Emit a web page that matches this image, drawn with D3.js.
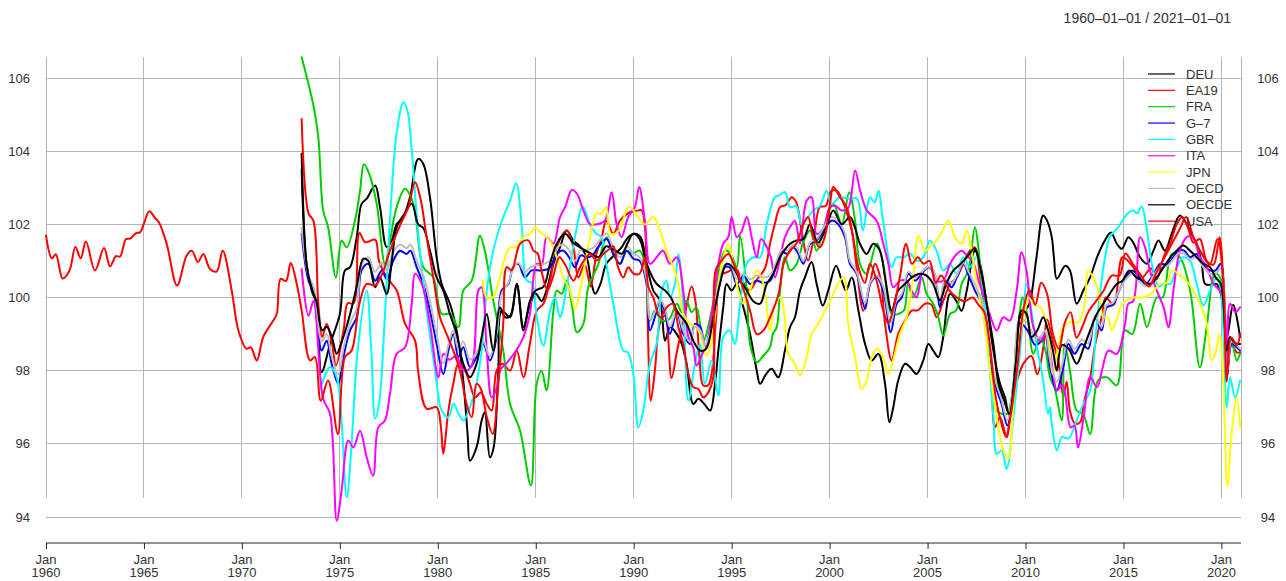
<!DOCTYPE html>
<html><head><meta charset="utf-8">
<script src="https://cdn.jsdelivr.net/npm/d3@7"></script>
<style>
html,body{margin:0;padding:0;background:#fff;}
svg text{font-family:"Liberation Sans",Arial,Helvetica,sans-serif;}
</style></head>
<body><svg id="c" width="1286" height="581"></svg>
<script>
// ---- data (decimal year, index value) ----
const seriesNames = ["DEU","EA19","FRA","G–7","GBR","ITA","JPN","OECD","OECDE","USA"];
const seriesColors = ["#000000","#FF0000","#00CD00","#0000FF","#00FFFF","#FF00FF","#FFFF00","#BEBEBE","#000000","#FF0000"];
const yTicks = [94,96,98,100,102,104,106];
const xTicks = [1960,1965,1970,1975,1980,1985,1990,1995,2000,2005,2010,2015,2020];
const titleText = "1960–01–01 / 2021–01–01";

const DEU = [[1973.05,103.93],[1973.3,100.92],[1973.56,100.19],[1973.8,99.83],[1974.07,97.96],[1974.5,98.73],[1975.0,99.55],[1975.26,100.74],[1975.52,100.83],[1975.86,101.65],[1976.11,102.56],[1976.37,102.7],[1976.8,103.06],[1977.05,102.47],[1977.39,101.38],[1977.65,101.56],[1977.9,102.0],[1978.24,102.2],[1978.58,102.74],[1979.0,103.79],[1979.26,103.65],[1979.6,102.74],[1979.94,101.1],[1980.2,100.37],[1980.62,99.83],[1980.96,99.1],[1981.3,97.73],[1981.52,96.27],[1981.64,95.54],[1981.98,95.91],[1982.24,96.64],[1982.4,96.86],[1982.66,95.63],[1982.85,95.9],[1983.09,98.0],[1983.26,99.64],[1983.69,99.46],[1984.03,100.37],[1984.37,99.19],[1984.7,99.8],[1985.0,100.1],[1985.3,99.9],[1985.55,100.2],[1985.9,100.92],[1986.24,101.37],[1986.58,101.83],[1986.92,101.56],[1987.26,101.4],[1987.6,101.1],[1987.85,100.37],[1988.03,100.1],[1988.3,100.37],[1988.6,100.92],[1988.9,101.1],[1989.38,101.37],[1989.72,101.65],[1990.06,101.74],[1990.35,101.65],[1990.66,100.92],[1991.0,100.19],[1991.34,99.92],[1991.6,98.82],[1991.85,99.19],[1992.2,99.0],[1992.45,98.73],[1992.7,98.19],[1993.04,97.09],[1993.3,97.23],[1993.6,97.09],[1993.9,96.91],[1994.15,97.64],[1994.32,98.55],[1994.57,99.73],[1994.74,100.37],[1995.0,100.19],[1995.26,100.37],[1995.6,99.73],[1995.94,99.0],[1996.28,98.0],[1996.45,97.64],[1996.75,97.9],[1997.04,98.05],[1997.38,97.82],[1997.72,98.55],[1997.98,99.19],[1998.23,99.46],[1998.49,100.19],[1998.74,100.55],[1999.08,100.97],[1999.34,100.37],[1999.65,99.78],[1999.93,100.19],[2000.33,100.87],[2000.62,100.46],[2000.84,100.19],[2001.13,100.55],[2001.47,99.64],[2001.81,98.73],[2002.15,98.28],[2002.49,98.46],[2002.83,97.64],[2003.05,96.59],[2003.25,97.0],[2003.5,97.73],[2003.85,98.19],[2004.1,98.1],[2004.44,97.91],[2004.78,98.28],[2005.04,98.73],[2005.29,98.55],[2005.55,98.37],[2005.8,98.92],[2006.15,100.1],[2006.45,99.92],[2006.74,99.64],[2007.0,100.19],[2007.42,101.28],[2007.68,100.92],[2008.02,99.83],[2008.36,98.55],[2008.7,97.64],[2008.95,97.27],[2009.17,96.77],[2009.46,97.64],[2009.72,99.46],[2009.97,99.64],[2010.2,99.83],[2010.56,101.1],[2010.9,102.24],[2011.1,102.1],[2011.34,101.65],[2011.45,101.1],[2011.6,100.51],[2012.03,100.87],[2012.27,100.74],[2012.61,99.83],[2012.95,100.19],[2013.3,100.55],[2013.65,101.1],[2014.05,101.56],[2014.36,101.78],[2014.66,101.47],[2014.92,101.33],[2015.25,101.65],[2015.5,101.5],[2015.85,101.1],[2016.2,100.92],[2016.53,101.28],[2016.79,101.56],[2017.12,101.28],[2017.46,101.74],[2017.88,102.24],[2018.23,102.0],[2018.5,101.7],[2018.74,101.47],[2019.0,100.92],[2019.17,100.37],[2019.5,100.35],[2019.75,100.37],[2019.97,100.1],[2020.27,98.9],[2020.6,99.8],[2020.95,98.92]];

const EA19 = [[1973.05,104.88],[1973.4,102.3],[1973.65,102.1],[1973.9,99.83],[1974.1,98.92],[1974.33,99.28],[1974.6,98.74],[1974.8,98.14],[1975.2,99.15],[1975.4,99.84],[1975.7,99.84],[1976.0,101.76],[1976.3,101.51],[1976.8,101.58],[1977.0,101.0],[1977.39,100.55],[1977.9,100.19],[1978.33,99.28],[1978.84,98.82],[1979.0,97.96],[1979.43,96.96],[1979.94,97.0],[1980.15,96.5],[1980.28,95.73],[1980.54,96.91],[1980.79,97.64],[1981.05,98.19],[1981.3,98.1],[1981.64,97.64],[1981.9,97.27],[1982.2,97.4],[1982.5,97.09],[1982.75,96.91],[1983.0,98.0],[1983.3,98.19],[1983.69,98.0],[1984.03,98.55],[1984.37,97.82],[1984.7,98.73],[1985.05,99.64],[1985.39,99.83],[1985.73,100.46],[1986.07,101.37],[1986.58,101.83],[1986.92,101.37],[1987.17,100.55],[1987.5,100.9],[1987.8,100.3],[1988.1,101.2],[1988.35,101.6],[1988.6,102.1],[1988.96,101.74],[1989.3,102.1],[1989.8,102.33],[1990.1,102.36],[1990.4,102.38],[1990.57,101.92],[1990.72,99.2],[1990.87,97.18],[1991.08,98.0],[1991.34,99.3],[1991.6,99.5],[1991.93,97.8],[1992.2,98.5],[1992.6,99.5],[1992.96,100.3],[1993.15,99.9],[1993.35,98.4],[1993.55,97.6],[1993.8,97.6],[1994.0,98.0],[1994.2,99.4],[1994.45,100.6],[1994.8,100.7],[1995.2,100.8],[1995.5,100.5],[1995.9,100.2],[1996.3,100.5],[1996.7,100.8],[1996.96,101.47],[1997.2,102.0],[1997.47,102.47],[1997.75,102.52],[1998.06,102.74],[1998.3,102.6],[1998.57,101.83],[1998.9,101.01],[1999.2,101.65],[1999.5,102.47],[1999.8,102.5],[2000.1,102.92],[2000.4,102.9],[2000.78,102.47],[2001.13,101.83],[2001.38,100.83],[2001.72,99.64],[2002.06,100.37],[2002.32,100.92],[2002.6,100.5],[2002.83,99.28],[2003.17,98.28],[2003.5,99.0],[2003.85,99.37],[2004.19,99.64],[2004.5,99.65],[2004.87,99.83],[2005.2,99.8],[2005.46,99.46],[2005.8,99.9],[2006.15,100.37],[2006.49,100.55],[2006.82,100.92],[2007.16,101.28],[2007.42,101.37],[2007.68,100.55],[2008.02,99.19],[2008.27,97.64],[2008.44,96.45],[2008.7,96.73],[2009.04,96.18],[2009.3,97.2],[2009.55,97.7],[2009.9,98.2],[2010.3,98.4],[2010.6,97.9],[2010.9,98.6],[2011.1,99.4],[2011.4,98.8],[2011.7,98.2],[2011.93,97.3],[2012.1,97.7],[2012.27,96.9],[2012.53,96.55],[2012.8,96.6],[2012.97,97.1],[2013.3,97.8],[2013.55,98.7],[2013.9,99.5],[2014.1,100.0],[2014.5,99.8],[2014.95,101.1],[2015.4,100.9],[2015.95,100.55],[2016.4,100.8],[2016.7,100.5],[2017.05,101.1],[2017.4,101.5],[2017.72,102.0],[2018.0,102.2],[2018.3,101.9],[2018.57,101.5],[2018.9,101.6],[2019.25,101.0],[2019.6,100.9],[2019.9,101.65],[2020.1,100.4],[2020.27,97.8],[2020.52,98.7],[2020.78,98.5],[2020.95,98.5]];

const FRA = [[1973.05,106.57],[1973.65,105.25],[1973.9,104.38],[1974.15,102.38],[1974.4,101.92],[1974.8,100.55],[1975.09,101.56],[1975.35,101.37],[1975.77,102.1],[1976.03,102.92],[1976.23,103.64],[1976.5,103.38],[1976.88,102.56],[1977.3,100.92],[1977.56,101.56],[1977.9,102.47],[1978.33,102.97],[1978.75,102.56],[1979.26,100.83],[1979.77,100.55],[1980.2,99.55],[1980.62,99.55],[1981.05,99.19],[1981.3,100.19],[1981.73,100.46],[1982.15,101.69],[1982.4,101.28],[1982.83,99.92],[1983.34,98.55],[1983.69,97.09],[1984.2,96.36],[1984.75,94.86],[1985.05,97.65],[1985.3,98.0],[1985.55,97.46],[1985.9,99.64],[1986.07,100.19],[1986.33,100.1],[1986.58,100.46],[1986.84,99.83],[1987.1,99.05],[1987.43,99.28],[1987.68,100.28],[1988.2,100.92],[1988.45,101.47],[1988.62,101.65],[1988.96,101.19],[1989.3,100.92],[1989.64,101.28],[1989.95,101.2],[1990.3,101.28],[1990.57,100.92],[1990.83,99.37],[1991.08,99.64],[1991.43,99.37],[1991.8,99.4],[1992.2,99.83],[1992.45,99.6],[1992.7,99.92],[1992.95,99.6],[1993.2,99.73],[1993.55,98.82],[1993.98,99.64],[1994.32,100.65],[1994.66,101.28],[1994.95,101.2],[1995.26,100.83],[1995.43,101.69],[1995.77,100.19],[1995.94,98.73],[1996.28,98.23],[1996.62,98.41],[1996.96,98.64],[1997.1,99.0],[1997.3,99.19],[1997.47,100.19],[1997.72,101.1],[1997.98,100.74],[1998.3,100.9],[1998.66,101.51],[1999.0,101.83],[1999.34,101.28],[1999.68,101.83],[2000.19,102.56],[2000.62,102.01],[2001.0,102.88],[2001.3,102.1],[2001.55,100.92],[2001.89,100.65],[2002.4,101.47],[2002.74,100.92],[2003.17,99.55],[2003.5,99.55],[2003.8,99.65],[2004.0,100.37],[2004.27,100.0],[2004.7,100.55],[2004.95,100.1],[2005.29,99.83],[2005.55,99.46],[2005.8,98.96],[2006.15,99.55],[2006.45,99.64],[2006.74,100.37],[2007.08,100.74],[2007.42,101.92],[2007.59,101.38],[2007.85,99.83],[2008.19,98.28],[2008.53,96.91],[2009.04,96.82],[2009.38,97.64],[2009.72,99.64],[2009.85,100.0],[2010.1,99.5],[2010.4,98.46],[2010.74,98.92],[2011.0,98.6],[2011.25,97.82],[2011.5,97.5],[2011.85,96.64],[2012.0,98.73],[2012.27,98.0],[2012.61,96.91],[2012.95,96.8],[2013.3,96.27],[2013.7,97.73],[2014.15,97.82],[2014.66,97.6],[2015.08,99.1],[2015.45,99.0],[2015.85,99.83],[2016.2,99.19],[2016.7,100.0],[2017.0,100.0],[2017.46,101.19],[2017.88,101.1],[2018.4,100.19],[2018.9,98.09],[2019.25,99.19],[2019.67,100.65],[2019.93,100.55],[2020.27,98.0],[2020.52,98.82],[2020.78,98.28],[2020.95,98.46]];

const G7 = [[1973.05,101.74],[1973.4,100.46],[1973.65,100.19],[1973.82,99.55],[1974.07,98.55],[1974.33,98.82],[1974.58,98.19],[1974.92,97.64],[1975.18,98.37],[1975.52,99.1],[1975.86,99.46],[1976.11,100.74],[1976.45,100.92],[1976.8,100.46],[1977.14,100.74],[1977.4,100.5],[1977.73,101.01],[1978.07,101.28],[1978.41,101.19],[1978.6,101.28],[1978.92,100.83],[1979.26,100.37],[1979.6,99.64],[1979.94,98.73],[1980.28,97.91],[1980.54,98.55],[1980.79,99.0],[1981.05,98.37],[1981.3,98.64],[1981.64,98.1],[1981.98,98.37],[1982.32,98.73],[1982.66,98.28],[1983.0,98.92],[1983.26,100.19],[1983.6,100.37],[1983.85,100.83],[1984.11,100.92],[1984.45,100.55],[1984.79,100.74],[1985.3,100.74],[1985.7,100.8],[1986.07,101.19],[1986.41,101.28],[1986.7,101.1],[1987.0,100.83],[1987.3,101.15],[1987.6,101.1],[1987.9,101.15],[1988.17,101.37],[1988.62,101.6],[1988.96,101.19],[1989.3,100.92],[1989.64,101.28],[1989.98,101.06],[1990.3,101.0],[1990.66,100.37],[1990.83,99.1],[1991.08,99.46],[1991.34,99.92],[1991.6,99.6],[1991.85,99.0],[1992.2,99.6],[1992.53,99.0],[1992.87,98.73],[1993.13,99.28],[1993.4,99.2],[1993.64,98.64],[1993.98,99.19],[1994.32,100.19],[1994.66,100.83],[1994.95,100.8],[1995.26,100.37],[1995.6,100.6],[1995.94,100.37],[1996.28,100.46],[1996.62,100.4],[1996.96,100.46],[1997.3,100.92],[1997.55,101.24],[1997.85,101.2],[1998.15,101.37],[1998.4,101.2],[1998.66,100.92],[1999.0,101.47],[1999.34,101.56],[1999.68,101.83],[2000.1,102.1],[2000.44,102.0],[2000.78,101.65],[2001.04,100.92],[2001.38,100.65],[2001.81,99.69],[2002.06,100.37],[2002.4,100.55],[2002.74,100.19],[2003.12,99.05],[2003.42,99.83],[2003.68,100.0],[2004.02,100.65],[2004.36,100.46],[2004.7,100.65],[2005.04,100.83],[2005.35,100.65],[2005.63,99.73],[2005.9,100.46],[2006.23,100.28],[2006.49,100.55],[2006.82,100.92],[2007.1,100.6],[2007.42,100.19],[2007.76,99.83],[2008.1,98.73],[2008.44,97.64],[2008.78,97.09],[2009.07,96.5],[2009.38,97.55],[2009.72,99.3],[2010.1,99.1],[2010.5,98.7],[2010.8,98.8],[2011.0,99.0],[2011.25,98.1],[2011.59,97.46],[2011.93,98.1],[2012.18,98.73],[2012.51,98.46],[2012.86,98.73],[2013.2,98.6],[2013.54,99.46],[2013.88,99.1],[2014.14,99.73],[2014.45,99.8],[2014.78,100.19],[2015.12,100.55],[2015.47,100.74],[2015.8,100.55],[2016.14,100.37],[2016.5,100.6],[2016.87,100.92],[2017.2,100.9],[2017.55,101.1],[2017.8,101.28],[2018.1,101.28],[2018.4,101.1],[2018.74,101.19],[2019.05,100.92],[2019.42,100.74],[2019.7,100.74],[2019.97,100.92],[2020.27,97.82],[2020.52,98.73],[2020.78,98.64],[2020.95,98.55]];

const GBR = [[1974.0,97.5],[1974.5,98.1],[1974.85,97.8],[1975.35,94.54],[1975.6,96.0],[1975.9,98.5],[1976.37,100.19],[1976.6,98.6],[1976.8,96.69],[1977.0,97.1],[1977.3,99.5],[1977.6,102.5],[1977.9,104.5],[1978.24,105.34],[1978.45,105.1],[1978.67,104.02],[1979.0,101.74],[1979.43,99.64],[1979.86,98.0],[1980.2,96.91],[1980.54,96.73],[1980.8,97.1],[1981.0,96.9],[1981.3,96.64],[1981.64,97.0],[1981.9,97.46],[1982.24,98.55],[1982.5,100.19],[1982.83,101.28],[1983.34,102.2],[1983.69,102.65],[1984.0,103.12],[1984.28,102.0],[1984.54,100.46],[1984.8,100.4],[1985.05,99.46],[1985.39,98.69],[1985.73,99.64],[1985.98,100.0],[1986.24,99.46],[1986.55,100.2],[1987.0,101.65],[1987.4,102.49],[1987.77,102.0],[1988.1,101.74],[1988.35,101.65],[1988.6,100.92],[1988.96,99.83],[1989.47,98.55],[1989.7,98.5],[1989.98,97.91],[1990.24,96.45],[1990.49,96.91],[1990.83,98.19],[1991.17,98.73],[1991.43,100.19],[1991.68,100.46],[1991.85,100.0],[1992.1,100.37],[1992.28,101.19],[1992.53,99.83],[1992.79,97.18],[1993.13,98.19],[1993.38,98.73],[1993.64,97.64],[1993.98,98.28],[1994.32,97.32],[1994.57,98.92],[1994.9,99.1],[1995.16,98.73],[1995.43,99.83],[1995.77,100.92],[1996.1,101.1],[1996.45,101.1],[1996.79,102.0],[1997.2,102.74],[1997.45,102.8],[1997.72,102.88],[1997.98,102.47],[1998.3,102.5],[1998.57,102.0],[1998.9,102.2],[1999.17,102.38],[1999.5,102.5],[1999.85,102.92],[2000.1,102.56],[2000.53,102.74],[2001.0,102.7],[2001.4,102.7],[2001.7,101.83],[2002.06,102.74],[2002.3,102.6],[2002.5,102.92],[2002.7,102.2],[2003.17,100.83],[2003.42,101.1],[2003.8,101.1],[2004.1,101.2],[2004.45,101.0],[2004.78,101.1],[2005.12,101.56],[2005.46,101.28],[2005.8,100.74],[2006.15,100.9],[2006.49,100.65],[2006.82,101.1],[2007.16,100.83],[2007.5,101.1],[2007.85,100.19],[2008.1,98.55],[2008.36,96.73],[2008.53,95.73],[2008.78,95.82],[2009.04,95.32],[2009.38,96.73],[2009.72,98.55],[2009.85,99.3],[2010.05,100.37],[2010.3,99.64],[2010.56,98.73],[2010.9,97.73],[2011.15,96.82],[2011.25,97.0],[2011.34,96.55],[2011.6,95.82],[2011.85,96.18],[2012.2,96.15],[2012.61,96.64],[2012.95,97.09],[2013.3,97.46],[2013.55,98.73],[2013.72,99.73],[2014.06,101.1],[2014.3,101.65],[2014.7,101.9],[2015.2,102.29],[2015.5,102.38],[2015.7,102.3],[2015.93,102.49],[2016.2,101.83],[2016.45,100.92],[2016.8,100.3],[2017.1,100.4],[2017.4,100.37],[2017.72,100.83],[2018.05,101.1],[2018.4,101.0],[2018.74,100.37],[2019.08,99.78],[2019.42,100.19],[2019.76,100.55],[2019.97,100.2],[2020.27,97.0],[2020.44,97.82],[2020.7,97.27],[2020.95,97.73]];

const ITA = [[1973.05,100.78],[1973.4,99.5],[1973.65,99.9],[1974.15,97.23],[1974.5,96.82],[1974.84,93.9],[1975.09,94.72],[1975.43,96.09],[1975.69,95.9],[1976.03,96.36],[1976.37,95.63],[1976.7,95.13],[1976.96,96.45],[1977.3,96.64],[1977.56,97.37],[1977.9,98.46],[1978.33,98.64],[1978.67,99.83],[1978.84,100.65],[1979.18,100.37],[1979.6,99.28],[1980.03,97.82],[1980.28,98.46],[1980.6,98.3],[1980.95,98.4],[1981.3,98.0],[1981.7,98.1],[1982.07,100.19],[1982.24,100.28],[1982.5,98.55],[1982.75,97.27],[1983.0,97.5],[1983.17,98.0],[1983.5,98.2],[1984.0,98.55],[1984.37,98.92],[1984.7,99.55],[1985.05,100.92],[1985.3,100.9],[1985.55,101.65],[1985.9,101.47],[1986.24,102.2],[1986.5,102.47],[1986.84,102.94],[1987.1,102.84],[1987.43,102.38],[1987.77,102.0],[1988.1,102.0],[1988.53,102.1],[1988.87,102.88],[1989.13,102.0],[1989.38,101.65],[1989.72,102.2],[1990.06,102.47],[1990.28,103.02],[1990.57,102.1],[1990.83,100.92],[1991.17,101.1],[1991.5,101.28],[1991.85,100.92],[1992.2,101.1],[1992.53,100.19],[1992.79,98.92],[1993.04,98.64],[1993.21,98.14],[1993.45,98.4],[1993.72,98.73],[1994.06,99.83],[1994.32,100.92],[1994.57,101.47],[1994.83,101.65],[1995.0,102.2],[1995.26,101.65],[1995.5,101.8],[1995.77,102.2],[1996.02,101.65],[1996.28,101.1],[1996.5,101.6],[1996.79,101.38],[1997.0,101.1],[1997.21,100.55],[1997.45,101.0],[1997.72,101.65],[1998.06,102.0],[1998.23,102.1],[1998.49,101.47],[1998.83,102.65],[1999.08,102.74],[1999.34,101.74],[1999.68,101.9],[2000.02,102.47],[2000.3,102.5],[2000.62,102.38],[2000.95,102.45],[2001.3,103.47],[2001.56,102.92],[2001.9,102.38],[2002.4,102.1],[2002.74,101.47],[2003.0,100.92],[2003.25,100.28],[2003.6,100.46],[2003.93,100.46],[2004.19,100.19],[2004.44,100.0],[2004.78,100.74],[2005.12,100.83],[2005.45,100.46],[2005.8,100.46],[2006.15,100.92],[2006.49,101.19],[2006.74,101.28],[2007.08,101.1],[2007.3,101.0],[2007.6,100.46],[2007.9,100.0],[2008.2,99.5],[2008.53,99.1],[2008.87,99.46],[2009.2,99.37],[2009.55,100.19],[2009.8,101.24],[2010.05,100.74],[2010.4,99.19],[2010.74,98.82],[2011.05,99.0],[2011.4,98.0],[2011.6,97.46],[2011.9,97.6],[2012.3,96.45],[2012.5,96.5],[2012.68,95.9],[2012.97,96.73],[2013.3,97.82],[2013.65,97.55],[2013.9,98.0],[2014.23,98.55],[2014.66,98.46],[2015.08,99.28],[2015.25,99.83],[2015.5,99.9],[2015.85,101.65],[2016.1,101.38],[2016.35,100.74],[2016.7,100.19],[2017.05,99.73],[2017.3,99.19],[2017.55,100.19],[2017.88,101.28],[2018.23,101.65],[2018.55,101.65],[2018.9,101.1],[2019.25,100.83],[2019.6,100.37],[2019.9,100.2],[2020.1,100.0],[2020.27,98.0],[2020.44,99.83],[2020.7,99.6],[2020.95,99.73]];

const JPN = [[1982.28,100.46],[1982.5,100.0],[1982.8,100.0],[1983.17,100.55],[1983.43,101.1],[1983.69,101.37],[1984.0,101.37],[1984.37,101.65],[1984.7,101.74],[1984.96,101.92],[1985.2,101.8],[1985.55,101.65],[1985.81,101.47],[1986.07,101.1],[1986.41,100.55],[1986.75,100.19],[1987.0,99.69],[1987.26,100.2],[1987.51,100.92],[1987.77,101.65],[1988.1,102.29],[1988.35,102.3],[1988.58,102.47],[1988.83,101.74],[1989.2,101.8],[1989.77,102.49],[1990.1,102.3],[1990.57,102.0],[1991.0,102.2],[1991.34,101.83],[1991.68,101.28],[1992.02,100.83],[1992.28,100.37],[1992.53,99.55],[1992.87,99.28],[1993.21,99.19],[1993.55,98.73],[1993.72,98.41],[1993.98,98.8],[1994.32,100.37],[1994.57,101.1],[1994.83,101.47],[1995.08,100.92],[1995.34,100.19],[1995.6,99.83],[1995.94,100.19],[1996.28,100.74],[1996.62,100.37],[1996.96,99.1],[1997.21,99.83],[1997.5,100.0],[1997.7,99.5],[1997.89,98.46],[1998.23,98.19],[1998.49,97.87],[1998.83,98.37],[1999.08,99.0],[1999.42,99.28],[1999.77,99.64],[2000.19,100.1],[2000.53,100.46],[2000.74,100.55],[2000.95,99.28],[2001.3,98.37],[2001.64,97.5],[2001.89,97.73],[2002.15,98.37],[2002.4,98.6],[2002.7,98.4],[2003.0,97.91],[2003.25,98.3],[2003.59,99.0],[2003.93,99.46],[2004.27,100.55],[2004.53,101.69],[2004.87,101.28],[2005.15,101.4],[2005.46,101.56],[2005.72,101.78],[2006.06,102.1],[2006.4,101.65],[2006.74,101.47],[2007.0,101.83],[2007.25,101.28],[2007.51,100.37],[2007.85,99.46],[2008.19,98.0],[2008.53,96.73],[2008.87,95.82],[2009.12,95.59],[2009.38,97.09],[2009.72,98.92],[2010.0,99.7],[2010.14,100.0],[2010.45,99.8],[2010.76,99.73],[2011.08,99.28],[2011.4,97.91],[2011.67,98.64],[2011.92,99.19],[2012.27,99.32],[2012.7,99.32],[2013.02,99.83],[2013.2,100.74],[2013.45,100.55],[2013.72,100.19],[2013.97,99.46],[2014.2,99.46],[2014.4,99.1],[2014.65,99.4],[2014.95,99.83],[2015.5,100.0],[2016.0,100.0],[2016.4,100.1],[2016.86,100.37],[2017.2,100.4],[2017.5,100.74],[2017.9,100.6],[2018.2,100.46],[2018.57,100.19],[2018.9,99.83],[2019.25,99.28],[2019.5,98.28],[2019.7,98.5],[2019.9,99.0],[2020.1,97.64],[2020.3,94.86],[2020.52,96.27],[2020.78,97.27],[2020.95,96.45]];

const OECD = [[1973.05,101.9],[1973.4,100.6],[1973.65,100.3],[1973.82,99.7],[1974.07,98.8],[1974.33,99.0],[1974.58,98.4],[1974.92,97.9],[1975.18,98.6],[1975.52,99.3],[1975.86,99.7],[1976.11,100.9],[1976.45,101.1],[1976.8,100.7],[1977.14,100.95],[1977.4,100.75],[1977.73,101.25],[1978.07,101.45],[1978.41,101.35],[1978.6,101.45],[1978.92,101.0],[1979.26,100.6],[1979.6,99.9],[1979.94,99.0],[1980.28,98.2],[1980.54,98.7],[1980.79,99.1],[1981.05,98.6],[1981.3,98.8],[1981.64,98.3],[1981.98,98.5],[1982.32,98.8],[1982.66,98.4],[1983.0,99.0],[1983.26,100.1],[1983.6,100.4],[1983.85,100.8],[1984.11,100.95],[1984.45,100.7],[1984.79,100.85],[1985.3,100.9],[1985.7,101.0],[1986.07,101.35],[1986.41,101.45],[1986.7,101.3],[1987.0,101.0],[1987.3,101.3],[1987.6,101.3],[1987.9,101.35],[1988.17,101.5],[1988.62,101.75],[1988.96,101.35],[1989.3,101.1],[1989.64,101.4],[1989.98,101.2],[1990.3,101.1],[1990.66,100.5],[1990.83,99.4],[1991.08,99.6],[1991.34,99.95],[1991.6,99.7],[1991.85,99.2],[1992.2,99.65],[1992.53,99.1],[1992.87,98.8],[1993.13,99.2],[1993.4,99.1],[1993.64,98.7],[1993.98,99.2],[1994.32,100.2],[1994.66,100.9],[1994.95,100.9],[1995.26,100.5],[1995.6,100.65],[1995.94,100.5],[1996.28,100.6],[1996.62,100.55],[1996.96,100.6],[1997.3,101.0],[1997.55,101.3],[1997.85,101.3],[1998.15,101.45],[1998.4,101.3],[1998.66,101.0],[1999.0,101.5],[1999.34,101.6],[1999.68,101.9],[2000.1,102.2],[2000.44,102.1],[2000.78,101.75],[2001.04,101.0],[2001.38,100.7],[2001.81,99.85],[2002.06,100.4],[2002.4,100.6],[2002.74,100.3],[2003.12,99.3],[2003.42,99.95],[2003.68,100.1],[2004.02,100.7],[2004.36,100.55],[2004.7,100.7],[2005.04,100.85],[2005.35,100.7],[2005.63,99.9],[2005.9,100.5],[2006.23,100.4],[2006.49,100.6],[2006.82,100.95],[2007.1,100.7],[2007.42,100.35],[2007.76,99.95],[2008.1,98.9],[2008.44,97.8],[2008.78,97.2],[2009.07,96.65],[2009.38,97.6],[2009.72,99.4],[2010.1,99.3],[2010.5,98.9],[2010.8,98.95],[2011.0,99.1],[2011.25,98.3],[2011.59,97.7],[2011.93,98.3],[2012.18,98.85],[2012.51,98.6],[2012.86,98.85],[2013.2,98.75],[2013.54,99.5],[2013.88,99.2],[2014.14,99.8],[2014.45,99.85],[2014.78,100.2],[2015.12,100.5],[2015.47,100.65],[2015.8,100.45],[2016.14,100.3],[2016.5,100.55],[2016.87,100.85],[2017.2,100.85],[2017.55,101.05],[2017.8,101.2],[2018.1,101.2],[2018.4,101.05],[2018.74,101.1],[2019.05,100.85],[2019.42,100.65],[2019.7,100.65],[2019.97,100.8],[2020.27,97.9],[2020.52,98.8],[2020.78,98.7],[2020.95,98.6]];

const OECDE = [[1973.05,103.5],[1973.3,100.9],[1973.56,100.25],[1973.8,99.9],[1974.1,99.1],[1974.33,99.2],[1974.6,98.9],[1974.84,98.46],[1975.1,98.8],[1975.5,99.5],[1975.86,100.3],[1976.2,101.06],[1976.45,101.0],[1976.8,100.28],[1977.05,100.55],[1977.39,100.1],[1977.65,101.0],[1977.9,101.92],[1978.24,102.24],[1978.67,102.56],[1979.0,102.0],[1979.26,101.9],[1979.6,101.28],[1979.94,100.55],[1980.28,100.19],[1980.62,99.55],[1980.96,99.0],[1981.3,98.19],[1981.64,97.82],[1981.98,98.19],[1982.24,98.92],[1982.5,99.55],[1982.83,98.55],[1983.17,99.73],[1983.43,99.46],[1983.7,99.5],[1984.03,100.37],[1984.37,99.1],[1984.7,99.9],[1985.0,100.19],[1985.4,100.3],[1985.73,100.92],[1986.07,101.47],[1986.5,101.74],[1986.9,101.5],[1987.26,101.37],[1987.85,101.19],[1988.2,101.1],[1988.6,101.4],[1989.0,101.3],[1989.4,101.2],[1989.7,101.5],[1989.98,101.74],[1990.3,101.6],[1990.66,100.92],[1991.17,100.37],[1991.6,100.19],[1991.9,100.0],[1992.2,99.64],[1992.7,99.28],[1993.04,98.82],[1993.38,98.55],[1993.7,98.6],[1994.06,99.46],[1994.4,100.37],[1994.74,100.92],[1995.1,100.8],[1995.43,100.46],[1995.77,100.19],[1996.1,99.9],[1996.45,99.83],[1996.79,100.37],[1997.13,100.65],[1997.47,101.1],[1997.98,101.47],[1998.32,101.56],[1998.66,101.6],[1999.0,102.0],[1999.4,101.5],[1999.77,101.83],[2000.19,102.38],[2000.62,102.0],[2001.04,102.2],[2001.3,101.9],[2001.55,101.47],[2001.89,101.19],[2002.23,101.47],[2002.55,101.3],[2002.83,100.55],[2003.17,99.64],[2003.5,100.19],[2003.85,100.37],[2004.2,100.55],[2004.61,100.65],[2004.95,100.6],[2005.29,100.37],[2005.63,99.92],[2005.95,100.37],[2006.32,100.74],[2006.65,100.9],[2007.0,101.1],[2007.41,101.33],[2007.68,100.83],[2008.02,99.83],[2008.36,98.73],[2008.62,97.64],[2008.9,97.2],[2009.17,96.82],[2009.5,98.2],[2009.8,99.64],[2010.05,99.55],[2010.3,98.92],[2010.6,99.1],[2010.9,99.46],[2011.1,99.2],[2011.4,98.55],[2011.6,98.0],[2011.85,98.7],[2012.2,98.6],[2012.61,98.19],[2012.95,98.6],[2013.3,99.1],[2013.64,99.55],[2013.97,99.83],[2014.3,100.1],[2014.66,100.37],[2014.95,100.46],[2015.3,100.74],[2015.65,100.55],[2016.0,100.46],[2016.35,100.37],[2016.7,100.55],[2017.05,100.83],[2017.4,101.1],[2017.75,101.3],[2018.05,101.42],[2018.4,101.28],[2018.74,101.1],[2019.08,100.92],[2019.42,100.83],[2019.7,100.55],[2019.97,100.37],[2020.27,98.55],[2020.44,98.92],[2020.7,98.75],[2020.95,98.73]];

const USA = [[1960.0,101.69],[1960.3,101.07],[1960.5,101.18],[1960.85,100.52],[1961.2,100.74],[1961.5,101.38],[1961.77,101.07],[1962.04,101.53],[1962.5,100.74],[1962.96,101.35],[1963.27,100.85],[1963.57,101.13],[1963.78,101.12],[1964.08,101.59],[1964.29,101.61],[1964.6,101.76],[1964.8,101.78],[1965.0,102.02],[1965.27,102.36],[1965.56,102.18],[1965.77,102.05],[1966.16,101.47],[1966.69,100.33],[1967.18,101.15],[1967.44,101.28],[1967.76,100.97],[1968.03,101.19],[1968.37,100.78],[1968.71,100.71],[1969.02,101.28],[1969.48,100.19],[1969.82,99.1],[1970.24,98.6],[1970.45,98.64],[1970.76,98.28],[1971.09,98.92],[1971.6,99.37],[1971.78,99.55],[1971.98,100.51],[1972.25,100.45],[1972.49,100.94],[1972.8,100.37],[1973.05,99.64],[1973.48,98.28],[1973.73,98.37],[1974.02,97.18],[1974.4,97.73],[1974.9,96.27],[1975.26,98.37],[1975.6,98.55],[1976.0,99.83],[1976.37,100.37],[1976.8,100.33],[1977.2,100.7],[1977.56,101.28],[1978.07,101.97],[1978.5,102.47],[1978.84,103.15],[1979.1,102.74],[1979.43,101.65],[1979.77,100.55],[1980.11,99.46],[1980.45,99.0],[1980.79,98.55],[1981.13,98.0],[1981.47,97.09],[1981.73,96.73],[1981.98,97.64],[1982.2,97.5],[1982.5,96.73],[1982.8,96.27],[1983.09,97.64],[1983.34,99.28],[1983.52,100.83],[1983.77,100.74],[1984.2,101.47],[1984.62,101.56],[1984.88,101.28],[1985.1,101.2],[1985.3,100.7],[1985.6,100.2],[1985.9,100.6],[1986.2,101.1],[1986.5,100.9],[1986.92,100.46],[1987.26,100.83],[1987.77,101.19],[1988.1,101.01],[1988.45,101.19],[1988.7,101.3],[1988.96,101.4],[1989.2,100.83],[1989.47,100.55],[1989.72,100.83],[1990.0,100.65],[1990.3,100.65],[1990.57,101.1],[1990.75,100.28],[1991.0,100.0],[1991.34,99.46],[1991.68,99.73],[1992.0,99.83],[1992.28,99.19],[1992.53,98.73],[1992.79,97.91],[1993.04,97.55],[1993.3,97.5],[1993.55,97.27],[1993.8,97.4],[1994.06,97.82],[1994.18,100.74],[1994.49,101.01],[1994.83,101.19],[1995.17,100.83],[1995.51,100.37],[1995.94,99.64],[1996.28,99.0],[1996.62,99.1],[1996.96,99.46],[1997.4,100.1],[1997.65,100.92],[1997.98,101.28],[1998.3,101.47],[1998.66,102.0],[1998.9,102.2],[1999.17,101.65],[1999.5,101.37],[1999.75,101.65],[2000.02,102.56],[2000.19,103.02],[2000.53,102.74],[2000.87,102.47],[2001.2,101.65],[2001.47,100.83],[2001.8,100.4],[2002.06,100.92],[2002.4,100.46],[2002.74,99.64],[2003.0,99.3],[2003.3,99.8],[2003.6,100.6],[2003.9,101.47],[2004.2,100.92],[2004.5,101.1],[2004.8,100.92],[2005.1,101.0],[2005.4,100.4],[2005.7,100.6],[2006.1,100.2],[2006.5,100.0],[2006.9,99.9],[2007.3,100.0],[2007.6,99.8],[2007.9,99.6],[2008.2,98.6],[2008.5,97.2],[2008.8,96.5],[2009.0,96.2],[2009.25,96.8],[2009.6,98.2],[2009.9,99.7],[2010.2,100.2],[2010.5,99.8],[2010.8,100.4],[2011.1,100.1],[2011.4,99.0],[2011.7,98.6],[2012.0,99.3],[2012.3,99.6],[2012.6,98.9],[2012.9,99.2],[2013.2,99.6],[2013.6,99.9],[2014.0,100.2],[2014.4,100.6],[2014.8,100.6],[2015.1,101.2],[2015.5,100.9],[2015.9,100.6],[2016.3,100.3],[2016.7,100.7],[2017.1,101.1],[2017.5,101.5],[2017.9,101.9],[2018.2,102.2],[2018.6,101.6],[2019.0,101.2],[2019.4,100.9],[2019.8,101.6],[2020.1,100.4],[2020.27,97.7],[2020.5,98.9],[2020.8,98.7],[2020.95,99.0]];

const seriesData = [DEU, EA19, FRA, G7, GBR, ITA, JPN, OECD, OECDE, USA];

// ---- drawing ----
const svg = d3.select("#c");
const x = d3.scaleLinear().domain([1960, 2021]).range([46, 1241]);
const y = d3.scaleLinear().domain([94, 106]).range([517, 78]);
const gridColor = "#B5B5B5";

// horizontal grid
svg.append("g").selectAll("line").data(yTicks).join("line")
  .attr("x1", x(1960)).attr("x2", x(2021))
  .attr("y1", d => y(d)).attr("y2", d => y(d))
  .attr("stroke", gridColor).attr("stroke-width", 1).attr("shape-rendering","crispEdges");
// vertical grid
svg.append("g").selectAll("line").data(xTicks.concat([2021])).join("line")
  .attr("x1", d => x(d)).attr("x2", d => x(d))
  .attr("y1", 57).attr("y2", 498)
  .attr("stroke", gridColor).attr("stroke-width", 1).attr("shape-rendering","crispEdges");

// y labels both sides
const yl = svg.append("g").attr("font-size", 13).attr("fill", "#333");
yl.selectAll("text.l").data(yTicks).join("text").attr("class","l")
  .attr("x", 30).attr("y", d => y(d)).attr("dy", "0.35em")
  .attr("text-anchor", "end").text(d => d);
yl.selectAll("text.r").data(yTicks).join("text").attr("class","r")
  .attr("x", 1268).attr("y", d => y(d)).attr("dy", "0.35em")
  .attr("text-anchor", "middle").text(d => d);

// x axis
const xAxis = d3.axisBottom(x).tickValues(xTicks).tickSize(6).tickFormat("");
const gx = svg.append("g").attr("transform", "translate(0,543)").call(xAxis);
gx.select(".domain").attr("d", `M${x(1960)},0H${x(2021)}`).attr("stroke", "#222");
gx.selectAll(".tick line").attr("stroke", "#222");
const xl = svg.append("g").attr("font-size", 13).attr("fill", "#333").attr("text-anchor","middle");
const xt = xl.selectAll("text").data(xTicks).join("text").attr("y", 564);
xt.append("tspan").attr("x", d => x(d)).text("Jan");
xt.append("tspan").attr("x", d => x(d)).attr("dy", 12.5).text(d => d);

// series
const line = d3.line().x(d => x(d[0])).y(d => y(d[1])).curve(d3.curveCatmullRom.alpha(0.5));
const gl = svg.append("g").attr("fill", "none");
seriesData.forEach((s, i) => {
  const pts = s.slice().sort((a, b) => a[0] - b[0]);
  gl.append("path").datum(pts).attr("d", line)
    .attr("stroke", seriesColors[i]).attr("stroke-width", 2)
    .attr("stroke-linejoin", "round").attr("stroke-linecap", "round");
});

// legend
const lg = svg.append("g");
seriesNames.forEach((n, i) => {
  const yy = 74 + i * 16.35;
  lg.append("line").attr("x1", 1148).attr("x2", 1175).attr("y1", yy).attr("y2", yy)
    .attr("stroke", seriesColors[i]).attr("stroke-width", 1.2);
  lg.append("text").attr("x", 1186).attr("y", yy).attr("dy", "0.36em")
    .attr("font-size", 13).attr("fill", "#333").text(n);
});

// title (date range)
svg.append("text").attr("x", 1231).attr("y", 23).attr("text-anchor", "end")
  .attr("font-size", 14).attr("fill", "#333").text(titleText);
</script>
</body></html>
